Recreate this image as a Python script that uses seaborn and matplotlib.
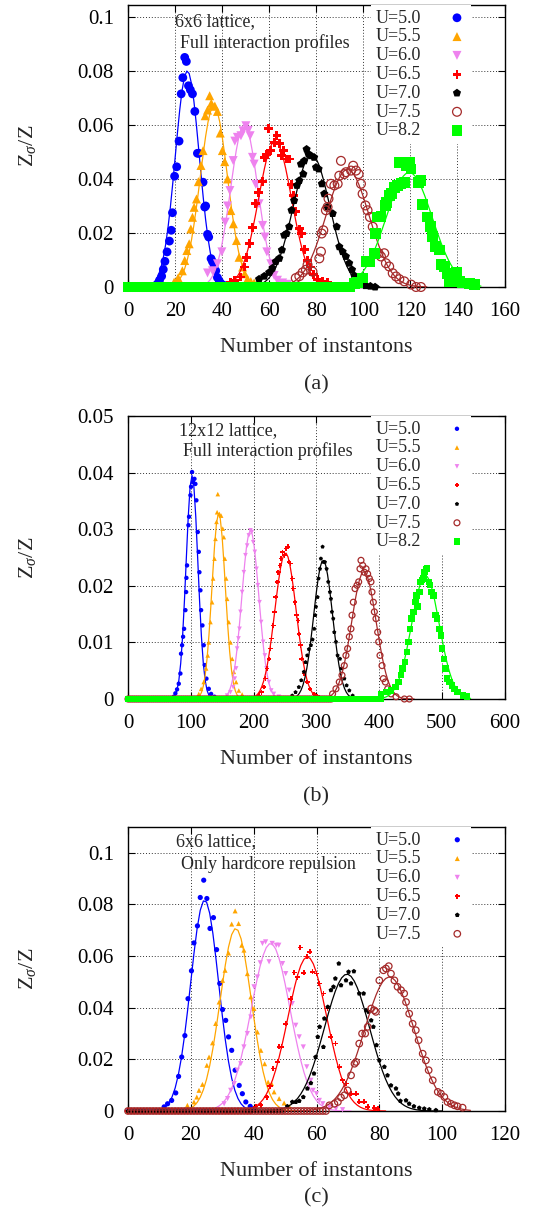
import numpy as np
import pandas as pd
import matplotlib
matplotlib.use("Agg")
import matplotlib.pyplot as plt
from matplotlib.ticker import FuncFormatter
import seaborn as sns

# ---------------- data: panel (a) 6x6, full interaction ----------------
A_LABELS = ["U=5.0", "U=5.5", "U=6.0", "U=6.5", "U=7.0", "U=7.5", "U=8.2"]
A_X0 = [11.5,12.5,13.4,14.3,15.0,15.7,16.6,17.6,18.4,18.9,19.8,20.7,21.7,22.6,23.3,24.1,24.8,25.7,26.5,27.4,28.4,29.5,30.1,31.9,32.6,33.0,33.8,34.3,35.3,35.9,36.6,37.3,38.0,38.8,39.6,40.8,42.0]
A_Y0 = [0.0004,0.001,0.0025,0.004,0.0065,0.0095,0.013,0.017,0.021,0.0275,0.041,0.0445,0.054,0.0715,0.0775,0.085,0.0835,0.0745,0.073,0.0715,0.065,0.0495,0.0495,0.0388,0.0296,0.030,0.0195,0.0185,0.0105,0.0094,0.008,0.006,0.0035,0.0022,0.0012,0.0006,0.0002]
A_X1 = [19.6,21.3,23.1,24.1,25.0,26.0,26.7,27.4,28.1,29.1,29.9,31.0,31.9,32.8,33.8,34.7,35.4,35.9,36.9,38.0,39.2,40.1,41.1,42.3,43.7,44.8,46.1,47.2,48.7,49.6,50.8,52.2,53.6]
A_Y1 = [0.0018,0.0034,0.006,0.0098,0.0135,0.016,0.0215,0.0258,0.0295,0.0326,0.039,0.045,0.0505,0.0634,0.0655,0.0708,0.068,0.067,0.067,0.065,0.057,0.0505,0.0464,0.040,0.0283,0.0234,0.0172,0.011,0.0074,0.0049,0.003,0.002,0.0015]
A_X2 = [33.8,35.9,38.0,39.9,41.3,42.3,43.3,44.7,45.4,46.5,48.0,48.9,50.1,51.1,51.9,52.9,53.6,54.3,55.7,57.2,58.2,59.0,60.7,62.1,63.5,65.7,67.8]
A_Y2 = [0.0052,0.006,0.0086,0.013,0.024,0.030,0.0357,0.0468,0.054,0.0554,0.056,0.0578,0.0597,0.058,0.056,0.048,0.0455,0.038,0.0308,0.0228,0.0185,0.013,0.0086,0.0043,0.0025,0.0015,0.001]
A_X3 = [43.7,45.4,47.7,49.4,50.5,51.5,52.9,54.3,55.5,57.2,57.9,59.0,59.7,60.7,62.1,63.3,64.3,65.3,66.1,67.5,68.5,69.5,70.2,71.3,72.8,73.8,74.9,76.3,77.4,78.9,80.6,82.7,84.8]
A_Y3 = [0.0018,0.0025,0.0037,0.0074,0.011,0.016,0.022,0.0308,0.035,0.039,0.048,0.049,0.0588,0.0505,0.0535,0.056,0.053,0.0486,0.0505,0.0474,0.0474,0.038,0.034,0.028,0.0215,0.0197,0.014,0.0098,0.0074,0.0045,0.0029,0.002,0.0017]
A_X4 = [55.7,57.9,60.0,61.4,62.8,64.3,65.4,66.4,67.4,68.5,69.5,70.6,71.8,72.8,73.5,74.5,74.9,75.9,76.7,77.7,79.1,79.9,81.0,82.4,83.4,84.8,87.0,88.7,89.8,91.2,92.6,94.0,95.2,96.2,97.6,99.7,101.0,103.0,105.0]
A_Y4 = [0.0029,0.004,0.0054,0.007,0.0094,0.0106,0.0137,0.0192,0.0198,0.0223,0.0284,0.032,0.0376,0.0394,0.0455,0.0418,0.0467,0.051,0.0492,0.0486,0.048,0.0443,0.0437,0.0382,0.0345,0.0296,0.0272,0.0223,0.0149,0.0131,0.0113,0.0088,0.0064,0.0042,0.0017,0.0009,0.0005,0.0003,0.0]
A_X5 = [71.3,72.8,74.2,75.6,76.3,78.4,81.3,82.0,82.3,83.0,84.1,84.8,85.2,86.2,87.7,89.1,89.8,90.5,91.9,92.6,94.8,95.7,96.9,98.0,99.0,99.7,100.9,101.8,102.8,104.0,105.4,106.5,107.5,108.9,109.6,111.0,112.5,113.9,115.3,117.4,120.3,122.4,124.5]
A_Y5 = [0.0033,0.004,0.0054,0.0064,0.0082,0.0057,0.0106,0.0131,0.0198,0.021,0.0284,0.0296,0.0327,0.0382,0.0376,0.0382,0.0412,0.0467,0.0418,0.0425,0.0431,0.0449,0.0431,0.0418,0.0382,0.0345,0.0302,0.0284,0.0259,0.0223,0.0198,0.0125,0.0113,0.0125,0.0088,0.0076,0.0051,0.0039,0.0029,0.0021,0.0009,0.0,0.0]
A_X6 = [96.2,97.6,99.7,101.1,102.6,104.7,105.1,106.1,107.5,109.4,109.9,111.1,112.1,113.2,114.6,115.3,116.0,117.4,118.2,119.6,120.3,123.5,124.5,125.0,127.4,128.5,129.5,130.6,132.3,133.0,134.5,135.9,136.6,138.3,139.7,140.9,142.3,145.1,147.2]
A_Y6 = [0.0012,0.0017,0.0033,0.0094,0.0094,0.0125,0.0198,0.0259,0.0262,0.0302,0.0314,0.0339,0.0345,0.0369,0.0376,0.0461,0.0382,0.0388,0.0449,0.0461,0.0437,0.0388,0.0394,0.0306,0.0259,0.0223,0.0186,0.0149,0.0137,0.0082,0.0076,0.0051,0.0021,0.0045,0.0054,0.0021,0.0015,0.0012,0.0009]
A_TAIL_END = [11, 19, 33, 43, 55, 70, 95]          # values are 0 from x=0 up to here
A_FIT_MU = [25.2, 36.5, 49.4, 62.5, 78.0, 93.3, 119.5]
A_FIT_SD = [5.1, 5.8, 5.8, 7.0, 7.8, 9.2, 9.8]
A_FIT_PK = [0.080, 0.067, 0.060, 0.054, 0.049, 0.0435, 0.0424]

# ---------------- data: panel (b) 12x12, full interaction ----------------
B_LABELS = ["U=5.0", "U=5.5", "U=6.0", "U=6.5", "U=7.0", "U=7.5", "U=8.2"]
B_X0 = [72.9,75.5,78.2,80.9,83.5,84.5,86.2,87.8,89.4,91.5,92.6,93.1,94.1,96.3,97.3,99.5,100.5,102.1,103.7,105.9,107.4,109.0,111.2,112.8,113.8,115.4,116.5,118.6,120.7,122.3,125.0,128.7,132.4,137.8]
B_Y0 = [0.0004,0.001,0.0017,0.0027,0.0045,0.008,0.0095,0.011,0.0124,0.0157,0.0189,0.0214,0.0236,0.0307,0.0322,0.036,0.0375,0.0401,0.0383,0.0389,0.038,0.0351,0.0295,0.026,0.0224,0.0192,0.0157,0.013,0.0095,0.006,0.0036,0.0018,0.0009,0.0004]
B_X1 = [112.8,116.5,120.7,124.5,127.1,128.7,131.4,134.0,135.6,137.8,139.4,141.0,142.0,143.1,145.7,148.4,151.0,152.7,154.3,156.4,158.0,160.6,163.3,166.0,168.6,172.3,176.6,181.9]
B_Y1 = [0.0009,0.0018,0.003,0.0054,0.0077,0.01,0.0136,0.0171,0.0213,0.0248,0.0283,0.0313,0.033,0.0362,0.0327,0.0324,0.0301,0.0286,0.0248,0.0213,0.0177,0.0136,0.01,0.0071,0.0048,0.003,0.0015,0.0008]
B_X2 = [158.0,163.3,167.6,170.2,172.3,173.9,176.1,177.7,179.3,181.9,184.6,187.2,189.9,192.6,195.2,197.3,199.5,202.1,204.8,206.9,209.6,212.2,215.4,218.1,220.7,224.5,228.2,232.4,240.4]
B_Y2 = [0.0006,0.0012,0.0021,0.0036,0.0054,0.0089,0.0107,0.0124,0.0154,0.0189,0.0224,0.0254,0.0271,0.0289,0.0298,0.0295,0.0277,0.026,0.023,0.0201,0.0171,0.0136,0.0101,0.0077,0.0054,0.003,0.0015,0.0009,0.0004]
B_X3 = [208.5,212.8,216.5,219.1,221.8,224.5,227.1,228.7,231.4,233.5,235.1,237.8,239.4,242.0,244.1,246.3,249.5,252.1,254.8,256.4,259.0,261.7,263.3,265.9,268.6,270.7,272.3,275.0,276.6,280.3,285.6,289.9,296.3,301.6]
B_Y3 = [0.0006,0.0012,0.0021,0.0036,0.0054,0.0071,0.0089,0.0107,0.013,0.0154,0.018,0.0207,0.0224,0.0236,0.0248,0.026,0.0254,0.0266,0.0269,0.0242,0.0239,0.0213,0.0195,0.0171,0.0148,0.0139,0.0115,0.0095,0.0071,0.0045,0.003,0.0018,0.0009,0.0005]
B_X4 = [261.7,267.0,272.3,276.1,280.3,283.0,285.6,288.3,291.5,294.1,296.8,298.4,299.5,302.1,303.7,305.9,307.4,310.1,311.7,313.8,316.5,319.1,321.8,323.4,325.0,327.1,328.7,331.4,334.0,337.8,340.4,344.7,348.4,352.7,358.0]
B_Y4 = [0.0006,0.0012,0.0021,0.0033,0.0048,0.0065,0.0077,0.0088,0.0095,0.0105,0.0124,0.0148,0.0163,0.018,0.0213,0.023,0.0248,0.0269,0.0242,0.0242,0.023,0.0207,0.0189,0.0177,0.0154,0.0142,0.0118,0.0101,0.0077,0.0071,0.0054,0.0036,0.0024,0.0015,0.0006]
B_X5 = [326.0,331.4,336.7,341.0,344.7,347.3,350.0,352.7,355.3,357.0,359.1,361.8,365.0,367.6,369.7,371.3,374.0,376.6,379.3,381.9,384.6,387.2,388.8,391.0,392.6,395.2,397.9,399.5,401.6,404.8,406.9,410.1,413.8,419.1,427.1,440.4,448.4]
B_Y5 = [0.0009,0.0018,0.003,0.0042,0.0059,0.0077,0.0089,0.011,0.0124,0.0148,0.0171,0.0195,0.0201,0.0207,0.023,0.0245,0.0236,0.0224,0.023,0.0221,0.0213,0.0207,0.0189,0.0171,0.0154,0.0142,0.0118,0.0101,0.0077,0.0059,0.0036,0.003,0.0018,0.0009,0.0004,0.0,0.0]
B_X6 = [403.2,411.2,419.1,426.1,431.4,435.1,437.8,441.5,444.7,446.8,449.5,452.1,454.8,458.0,460.1,461.7,464.4,466.0,468.6,470.7,472.9,475.0,476.6,479.3,481.4,484.0,486.7,489.9,492.6,496.3,499.0,500.5,503.2,505.9,508.0,512.2,516.5,520.2,525.5,533.5,539.9]
B_Y6 = [0.0009,0.0012,0.0015,0.0021,0.003,0.0042,0.0054,0.0065,0.0083,0.0101,0.0124,0.0142,0.0154,0.0171,0.0183,0.0163,0.0189,0.0207,0.021,0.0213,0.0224,0.023,0.0231,0.0207,0.0201,0.0189,0.0183,0.0148,0.0142,0.0124,0.0112,0.0089,0.0071,0.0054,0.0036,0.003,0.0024,0.0018,0.0012,0.0006,0.0004]
B_TAIL_END = [72, 112, 158, 208, 261, 326, 403]
B_FIT_MU = [102.0, 144.5, 195.0, 251.0, 311.0, 376.0, 474.0]
B_FIT_SD = [9.4, 10.6, 13.6, 17.0, 15.0, 19.5, 22.0]
B_FIT_PK = [0.0395, 0.0328, 0.0298, 0.0258, 0.0245, 0.0225, 0.0218]

# ---------------- data: panel (c) 6x6, hardcore only ----------------
C_LABELS = ["U=5.0", "U=5.5", "U=6.0", "U=6.5", "U=7.0", "U=7.5"]
C_X0 = [11.5,12.6,13.9,15.2,16.1,17.1,18.1,19.1,20.2,21.0,22.1,23.0,24.1,25.1,26.1,27.2,28.2,29.2,30.1,31.1,32.0,33.0,34.1,35.4,36.4,37.5,38.9,40.1]
C_Y0 = [0.0016,0.0028,0.0041,0.007,0.0134,0.0209,0.0292,0.0435,0.0543,0.0651,0.0717,0.0827,0.0894,0.0823,0.0707,0.0749,0.0625,0.0494,0.0393,0.0351,0.0287,0.0235,0.0158,0.0099,0.0067,0.0035,0.0018,0.0009]
C_X1 = [18.9,21.0,21.9,22.6,23.7,25.1,25.8,26.9,27.9,29.0,30.1,30.9,32.0,33.0,34.1,35.2,36.2,36.9,38.0,39.1,40.1,41.2,42.3,43.5,44.6,45.7,46.5,48.1,49.7,51.3]
C_Y1 = [0.0022,0.0035,0.0054,0.008,0.0103,0.0177,0.0209,0.0264,0.0339,0.0422,0.0506,0.0545,0.0612,0.0724,0.0775,0.0726,0.0642,0.0623,0.0532,0.0442,0.0397,0.0306,0.0235,0.0183,0.0112,0.0106,0.0074,0.0048,0.0031,0.0018]
C_X2 = [30.6,31.7,32.7,33.8,34.8,35.9,36.9,38.0,39.1,40.1,41.2,42.1,42.8,43.8,44.9,45.9,47.2,48.0,49.2,50.2,51.3,52.3,53.4,54.5,55.8,56.9,58.2,58.9,60.0,60.9,62.0,64.1,66.2,68.3]
C_Y2 = [0.0028,0.0048,0.008,0.0106,0.0158,0.0183,0.0248,0.030,0.0364,0.0481,0.0519,0.0574,0.0649,0.0655,0.0578,0.0649,0.0642,0.0642,0.0571,0.0532,0.0468,0.0416,0.0332,0.0287,0.0248,0.0171,0.0119,0.008,0.0067,0.0041,0.0028,0.0015,0.0009,0.0005]
C_X3 = [40.7,42.3,44.2,45.2,46.2,47.6,48.1,48.9,50.2,51.8,52.9,53.9,54.8,56.0,56.9,57.9,58.7,60.0,60.8,62.2,63.5,64.6,66.0,67.3,68.3,69.4,71.0,72.6,73.6,75.2,76.3,78.4,79.5]
C_Y3 = [0.0018,0.0022,0.0054,0.0096,0.0164,0.019,0.0248,0.0248,0.0338,0.0435,0.0537,0.0519,0.0633,0.0535,0.0599,0.0616,0.0539,0.0532,0.0494,0.0455,0.0397,0.0287,0.0261,0.0171,0.0119,0.0106,0.0067,0.0067,0.0035,0.0035,0.0016,0.0012,0.0009]
C_X4 = [50.7,52.3,53.4,54.5,55.8,57.1,58.2,59.2,59.7,60.4,61.0,62.2,62.5,63.6,64.6,65.4,66.0,67.1,67.8,69.4,70.2,71.0,71.9,73.6,75.0,75.8,76.6,77.4,78.1,79.1,80.0,81.6,82.6,83.7,85.3,86.0,86.7,88.5,89.5,91.0,92.7,94.3,95.9,98.0]
C_Y4 = [0.0018,0.0035,0.0035,0.0039,0.0054,0.0087,0.0108,0.0145,0.0209,0.0287,0.0326,0.0248,0.0358,0.0403,0.0468,0.0481,0.0513,0.0571,0.0487,0.0506,0.0539,0.0494,0.0541,0.0455,0.0455,0.039,0.0384,0.0351,0.0326,0.0255,0.0196,0.0171,0.0138,0.0099,0.0087,0.0067,0.0039,0.0041,0.0028,0.0018,0.0012,0.0009,0.0006,0.0003]
C_X5 = [64.1,65.7,66.8,67.8,68.9,69.9,71.0,72.1,72.6,73.6,74.5,75.5,76.3,77.4,78.4,78.9,80.0,81.3,82.1,83.0,83.7,84.8,85.8,86.9,87.9,88.5,89.5,90.6,91.6,92.5,93.8,94.8,95.7,97.0,98.6,99.6,100.7,101.7,102.8,103.9,104.9,106.5]
C_Y5 = [0.0022,0.0028,0.0035,0.0052,0.0061,0.008,0.0138,0.0183,0.019,0.0261,0.030,0.030,0.0326,0.0397,0.039,0.0384,0.0506,0.0545,0.0552,0.0561,0.0532,0.0506,0.0481,0.0468,0.0455,0.0422,0.0377,0.0338,0.0313,0.0274,0.0222,0.0196,0.0158,0.0119,0.0074,0.0067,0.0054,0.0035,0.0028,0.0022,0.0018,0.0013]
C_TAIL_END = [11, 18, 30, 40, 50, 64]
C_FIT_MU = [24.4, 34.3, 45.4, 57.1, 69.7, 83.2]
C_FIT_SD = [4.46, 4.97, 6.2, 6.2, 7.2, 7.9]
C_FIT_PK = [0.0817, 0.0707, 0.0649, 0.0597, 0.053, 0.0519]

# ---------------- style ----------------
sns.set_style("ticks")
plt.rcParams["font.family"] = ["Liberation Serif", "DejaVu Serif"]
plt.rcParams["mathtext.fontset"] = "custom"
plt.rcParams["mathtext.rm"] = "Liberation Serif"
plt.rcParams["mathtext.it"] = "Liberation Serif:italic"

COLORS = ["#0000ff", "#ffa500", "#ee82ee", "#ff0000", "#000000", "#a52a2a", "#00ff00"]
MARKERS = ["o", "^", "v", "P", "p", "o", "s"]
OPEN = [False, False, False, False, False, True, False]

W, H = 541, 1218
fig = plt.figure(figsize=(W / 100, H / 100), dpi=100)


def px_axes(left, top, right, bottom):
    return fig.add_axes([left / W, 1 - bottom / H, (right - left) / W, (bottom - top) / H])


panels = [
    dict(box=(128, 5, 504.5, 287), xs=[A_X0, A_X1, A_X2, A_X3, A_X4, A_X5, A_X6],
         ys=[A_Y0, A_Y1, A_Y2, A_Y3, A_Y4, A_Y5, A_Y6], labels=A_LABELS, tail=A_TAIL_END,
         mu=A_FIT_MU, sd=A_FIT_SD, pk=A_FIT_PK, xlim=(0, 160), xstep=20, ylim=(0, 0.1044),
         yticks=[0, 0.02, 0.04, 0.06, 0.08, 0.1], tstep=1.0,
         sizes=[40, 42, 42, 40, 38, 40, 60], text=("6x6 lattice,", "Full interaction profiles"),
         caption="(a)", text_pos=((0.125, 0.94), (0.138, 0.864))),
    dict(box=(128, 416, 504.5, 699), xs=[B_X0, B_X1, B_X2, B_X3, B_X4, B_X5, B_X6],
         ys=[B_Y0, B_Y1, B_Y2, B_Y3, B_Y4, B_Y5, B_Y6], labels=B_LABELS, tail=B_TAIL_END,
         mu=B_FIT_MU, sd=B_FIT_SD, pk=B_FIT_PK, xlim=(0, 600), xstep=100, ylim=(0, 0.05),
         yticks=[0, 0.01, 0.02, 0.03, 0.04, 0.05], tstep=3.0,
         sizes=[10, 11, 11, 11, 10, 18, 22], text=("12x12 lattice,", "Full interaction profiles"),
         caption="(b)", text_pos=((0.135, 0.95), (0.146, 0.876))),
    dict(box=(128, 827, 505, 1111), xs=[C_X0, C_X1, C_X2, C_X3, C_X4, C_X5],
         ys=[C_Y0, C_Y1, C_Y2, C_Y3, C_Y4, C_Y5], labels=C_LABELS, tail=C_TAIL_END,
         mu=C_FIT_MU, sd=C_FIT_SD, pk=C_FIT_PK, xlim=(0, 120), xstep=20, ylim=(0, 0.11),
         yticks=[0, 0.02, 0.04, 0.06, 0.08, 0.1], tstep=1.0,
         sizes=[14, 13, 14, 13, 13, 22], text=("6x6 lattice,", "Only hardcore repulsion"),
         caption="(c)", text_pos=((0.127, 0.947), (0.14, 0.869))),
]

fmt = FuncFormatter(lambda v, p: "%g" % round(v, 6))

for P in panels:
    left, top, right, bottom = P["box"]
    ax = px_axes(left, top, right, bottom)
    handles = []
    for i in range(len(P["xs"])):
        tx = np.arange(0, P["tail"][i], P["tstep"])
        x = np.concatenate([tx, np.asarray(P["xs"][i], float)])
        y = np.concatenate([np.zeros_like(tx), np.asarray(P["ys"][i], float)])
        df = pd.DataFrame({"x": x, "y": y})
        c = COLORS[i]
        if OPEN[i]:
            kw = dict(facecolor="none", edgecolor=c, linewidth=0.9)
        else:
            kw = dict(edgecolor="none", linewidth=0)
        sns.scatterplot(data=df, x="x", y="y", ax=ax, marker=MARKERS[i], s=P["sizes"][i],
                        color=c, label=P["labels"][i], clip_on=False, zorder=3 + i, **kw)
        handles.append(ax.collections[-1])
        fx = np.arange(0, max(P["xs"][i]) + 3 * P["tstep"], P["tstep"])
        fy = P["pk"][i] * np.exp(-0.5 * ((fx - P["mu"][i]) / P["sd"][i]) ** 2)
        sns.lineplot(x=fx, y=fy, ax=ax, color=c, linewidth=0.9, legend=False,
                     estimator=None, sort=False, zorder=3 + i)
    ax.set_xlim(*P["xlim"])
    ax.set_ylim(*P["ylim"])
    ax.set_xticks(np.arange(P["xlim"][0], P["xlim"][1] + 1, P["xstep"]))
    ax.set_yticks(P["yticks"])
    ax.xaxis.set_major_formatter(fmt)
    ax.yaxis.set_major_formatter(fmt)
    ax.set_xlabel("")
    ax.set_ylabel("")
    ax.grid(True, linestyle=(0, (1, 2)), color="#333333", linewidth=0.7)
    ax.set_axisbelow(True)
    ax.tick_params(direction="in", top=True, right=True, length=5, width=0.8,
                   labelsize=15, colors="black")
    ax.tick_params(axis="x", pad=11)
    ax.tick_params(axis="y", pad=10)
    for sp in ax.spines.values():
        sp.set_linewidth(1.0)
        sp.set_color("black")
    leg = ax.legend(handles, P["labels"], loc="upper left", bbox_to_anchor=(0.645, 1.0),
                    markerfirst=False, frameon=True, fancybox=False, framealpha=1,
                    edgecolor="none", fontsize=13, handlelength=1.0, handletextpad=1.5,
                    labelspacing=0.1, borderpad=0.25, borderaxespad=0.0, scatterpoints=1)
    leg.set_zorder(20)
    (t1x, t1y), (t2x, t2y) = P["text_pos"]
    ax.text(t1x, t1y, P["text"][0], transform=ax.transAxes, fontsize=13, va="center", ha="left")
    ax.text(t2x, t2y, P["text"][1], transform=ax.transAxes, fontsize=13, va="center", ha="left")
    cy = (top + bottom) / 2
    fig.text(27 / W, 1 - cy / H, r"Z$_\sigma$/Z", rotation=90, fontsize=16, ha="center", va="center")
    fig.text((left + right) / 2 / W, 1 - (bottom + 61) / H, "Number of instantons",
             fontsize=16, ha="center", va="center")
    cap_y = bottom + 98 if P["caption"] != "(c)" else 1198
    fig.text((left + right) / 2 / W, 1 - cap_y / H, P["caption"], fontsize=16, ha="center", va="center")

fig.savefig("out.png", dpi=100)
